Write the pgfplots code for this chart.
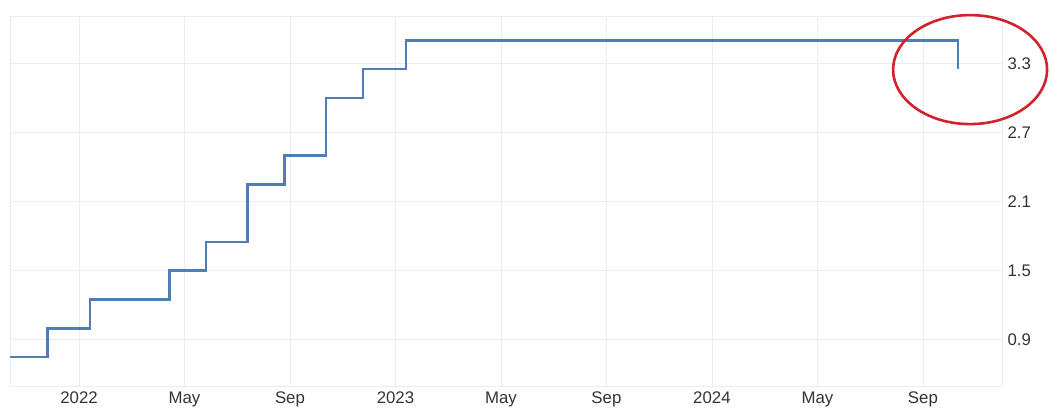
\documentclass[border=0pt]{standalone}
\usepackage{pgfplots}
\pgfplotsset{compat=1.18}
\usepackage{fontspec}
\setmainfont{Liberation Sans}
\definecolor{linec}{RGB}{80,125,180}
\definecolor{gridc}{RGB}{236,236,236}
\definecolor{framec}{RGB}{225,225,225}
\definecolor{ticktext}{RGB}{51,51,51}
\definecolor{ellc}{RGB}{210,35,45}
\begin{document}
\begin{tikzpicture}
\useasboundingbox (0,0) rectangle (1051bp,414bp);
\begin{axis}[
  at={(10bp,28bp)}, anchor=south west,
  scale only axis, width=992bp, height=370bp,
  xmin=-2.617, xmax=35, ymin=0.5, ymax=3.71,
  axis y line*=right,
  axis x line*=bottom,
  axis line style={draw=framec, line width=1bp},
  xtick={0,4,8,12,16,20,24,28,32},
  xticklabels={2022,May,Sep,2023,May,Sep,2024,May,Sep},
  ytick={0.9,1.5,2.1,2.7,3.3},
  yticklabel style={/pgf/number format/fixed, /pgf/number format/precision=1, /pgf/number format/fixed zerofill},
  /pgf/number format/assume math mode=true,
  tick style={draw=none},
  grid=major,
  major grid style={draw=gridc, line width=0.8bp},
  ticklabel style={font=\fontsize{16.8bp}{18bp}\selectfont, text=ticktext},
  xticklabel style={yshift=-2bp},
  yticklabel style={xshift=2bp},
  clip=false,
]
\draw[draw=gridc, line width=0.8bp] (rel axis cs:0,0) rectangle (rel axis cs:1,1);
\addplot[const plot, color=linec, line width=2.6bp] coordinates {
  (-2.617,0.75) (-1.2,1.00) (0.42,1.25) (3.43,1.50) (4.81,1.75)
  (6.40,2.25) (7.80,2.50) (9.37,3.00) (10.77,3.25) (12.40,3.50)
  (33.33,3.25)
};
\draw[ellc, line width=2.6bp] (axis cs:33.79,3.245) ellipse [x radius=77bp, y radius=54.5bp];
\end{axis}
\end{tikzpicture}
\end{document}
